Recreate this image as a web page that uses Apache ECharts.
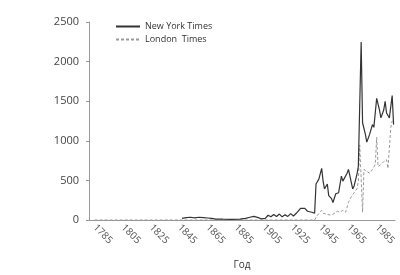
<!DOCTYPE html>
<html>
<head>
<meta charset="utf-8">
<script src="https://cdn.jsdelivr.net/npm/echarts@6/dist/echarts.min.js"></script>
<style>
html,body{margin:0;padding:0;background:#fff;}
#c{width:400px;height:275px;}
</style>
</head>
<body>
<div id="c"></div>
<script>
const xTickLabels = [1785, 1805, 1825, 1845, 1865, 1885, 1905, 1925, 1945, 1965, 1985];
const yTicks = [0, 500, 1000, 1500, 2000, 2500];
const seriesNames = ['New York Times', 'London  Times'];

const nytYears = [1847,1850,1853,1856,1859,1862,1865,1868,1871,1876,1882,1888,1892,1895,1898,1901,1903,1906,1908,1910,1912,1914,1916,1918,1920,1922,1924,1926,1928,1929,1931,1934,1936,1939,1941,1942,1944,1946,1947,1948,1950,1951,1953,1954,1956,1958,1960,1961,1964,1965,1968,1969,1971,1972,1974,1975,1977,1978,1980,1982,1983,1984,1985,1987,1988,1990,1991,1992,1994,1996,1997];
const nytValues = [20,30,35,28,35,30,25,20,12,10,8,10,20,35,45,30,15,20,60,40,70,45,75,40,65,45,80,50,85,86,147,147,110,98,86,455,516,651,491,393,455,307,270,221,332,344,553,491,590,639,393,430,577,675,2248,1228,1081,983,1081,1204,1170,1351,1536,1388,1290,1388,1499,1351,1290,1572,1204];

const ltYears = [1785,1850,1900,1941,1943,1946,1947,1950,1953,1957,1959,1961,1963,1965,1967,1969,1971,1972,1973,1975,1976,1978,1980,1982,1984,1985,1986,1988,1990,1992,1993,1995,1996];
const ltValues = [0,0,0,0,60,123,86,70,60,110,98,123,98,221,295,344,393,491,945,98,639,614,590,639,700,1044,675,700,737,761,651,1167,1253];

function pairs(xs, ys){ return xs.map((x,i)=>[x, ys[i]]); }

const chart = echarts.init(document.getElementById('c'), null, {renderer:'canvas'});
const font = '"Open Sans", "Noto Sans", sans-serif';
chart.setOption({
  animation: false,
  backgroundColor: '#fff',
  textStyle: {fontFamily: font},
  grid: {left: 89, right: 5, top: 22, bottom: 50, containLabel: false},
  legend: {
    orient: 'vertical', left: 110, top: 17, itemGap: 4,
    itemWidth: 24, itemHeight: 10,
    itemStyle: {opacity: 0},
    textStyle: {fontSize: 9, color: '#333', fontFamily: font},
    data: seriesNames
  },
  xAxis: {
    type: 'value', min: 1781, max: 1998,
    name: 'Год', nameLocation: 'middle', nameGap: 40,
    nameTextStyle: {fontSize: 10, color: '#333', fontFamily: font},
    axisLine: {show: true, lineStyle: {color: '#999', width: 1}},
    axisTick: {show: false},
    splitLine: {show: false},
    axisLabel: {rotate: -45, fontSize: 10, color: '#555', margin: 6, customValues: xTickLabels,
      formatter: v => String(v)}
  },
  yAxis: {
    type: 'value', min: yTicks[0], max: yTicks[yTicks.length-1], interval: 500,
    axisLine: {show: true, lineStyle: {color: '#999', width: 1}},
    axisTick: {show: true, length: 3, lineStyle: {color: '#999'}},
    splitLine: {show: false},
    axisLabel: {fontSize: 11, color: '#444', margin: 10, formatter: v => String(v)}
  },
  series: [
    {name: seriesNames[0], type: 'line', symbol: 'none', data: pairs(nytYears, nytValues),
     lineStyle: {color: '#333', width: 1.2}, itemStyle: {color: '#333'}, z: 3},
    {name: seriesNames[1], type: 'line', symbol: 'none', data: pairs(ltYears, ltValues),
     lineStyle: {color: '#999', width: 1, type: [3, 2]}, itemStyle: {color: '#999'}, z: 2}
  ]
});
</script>
</body>
</html>
